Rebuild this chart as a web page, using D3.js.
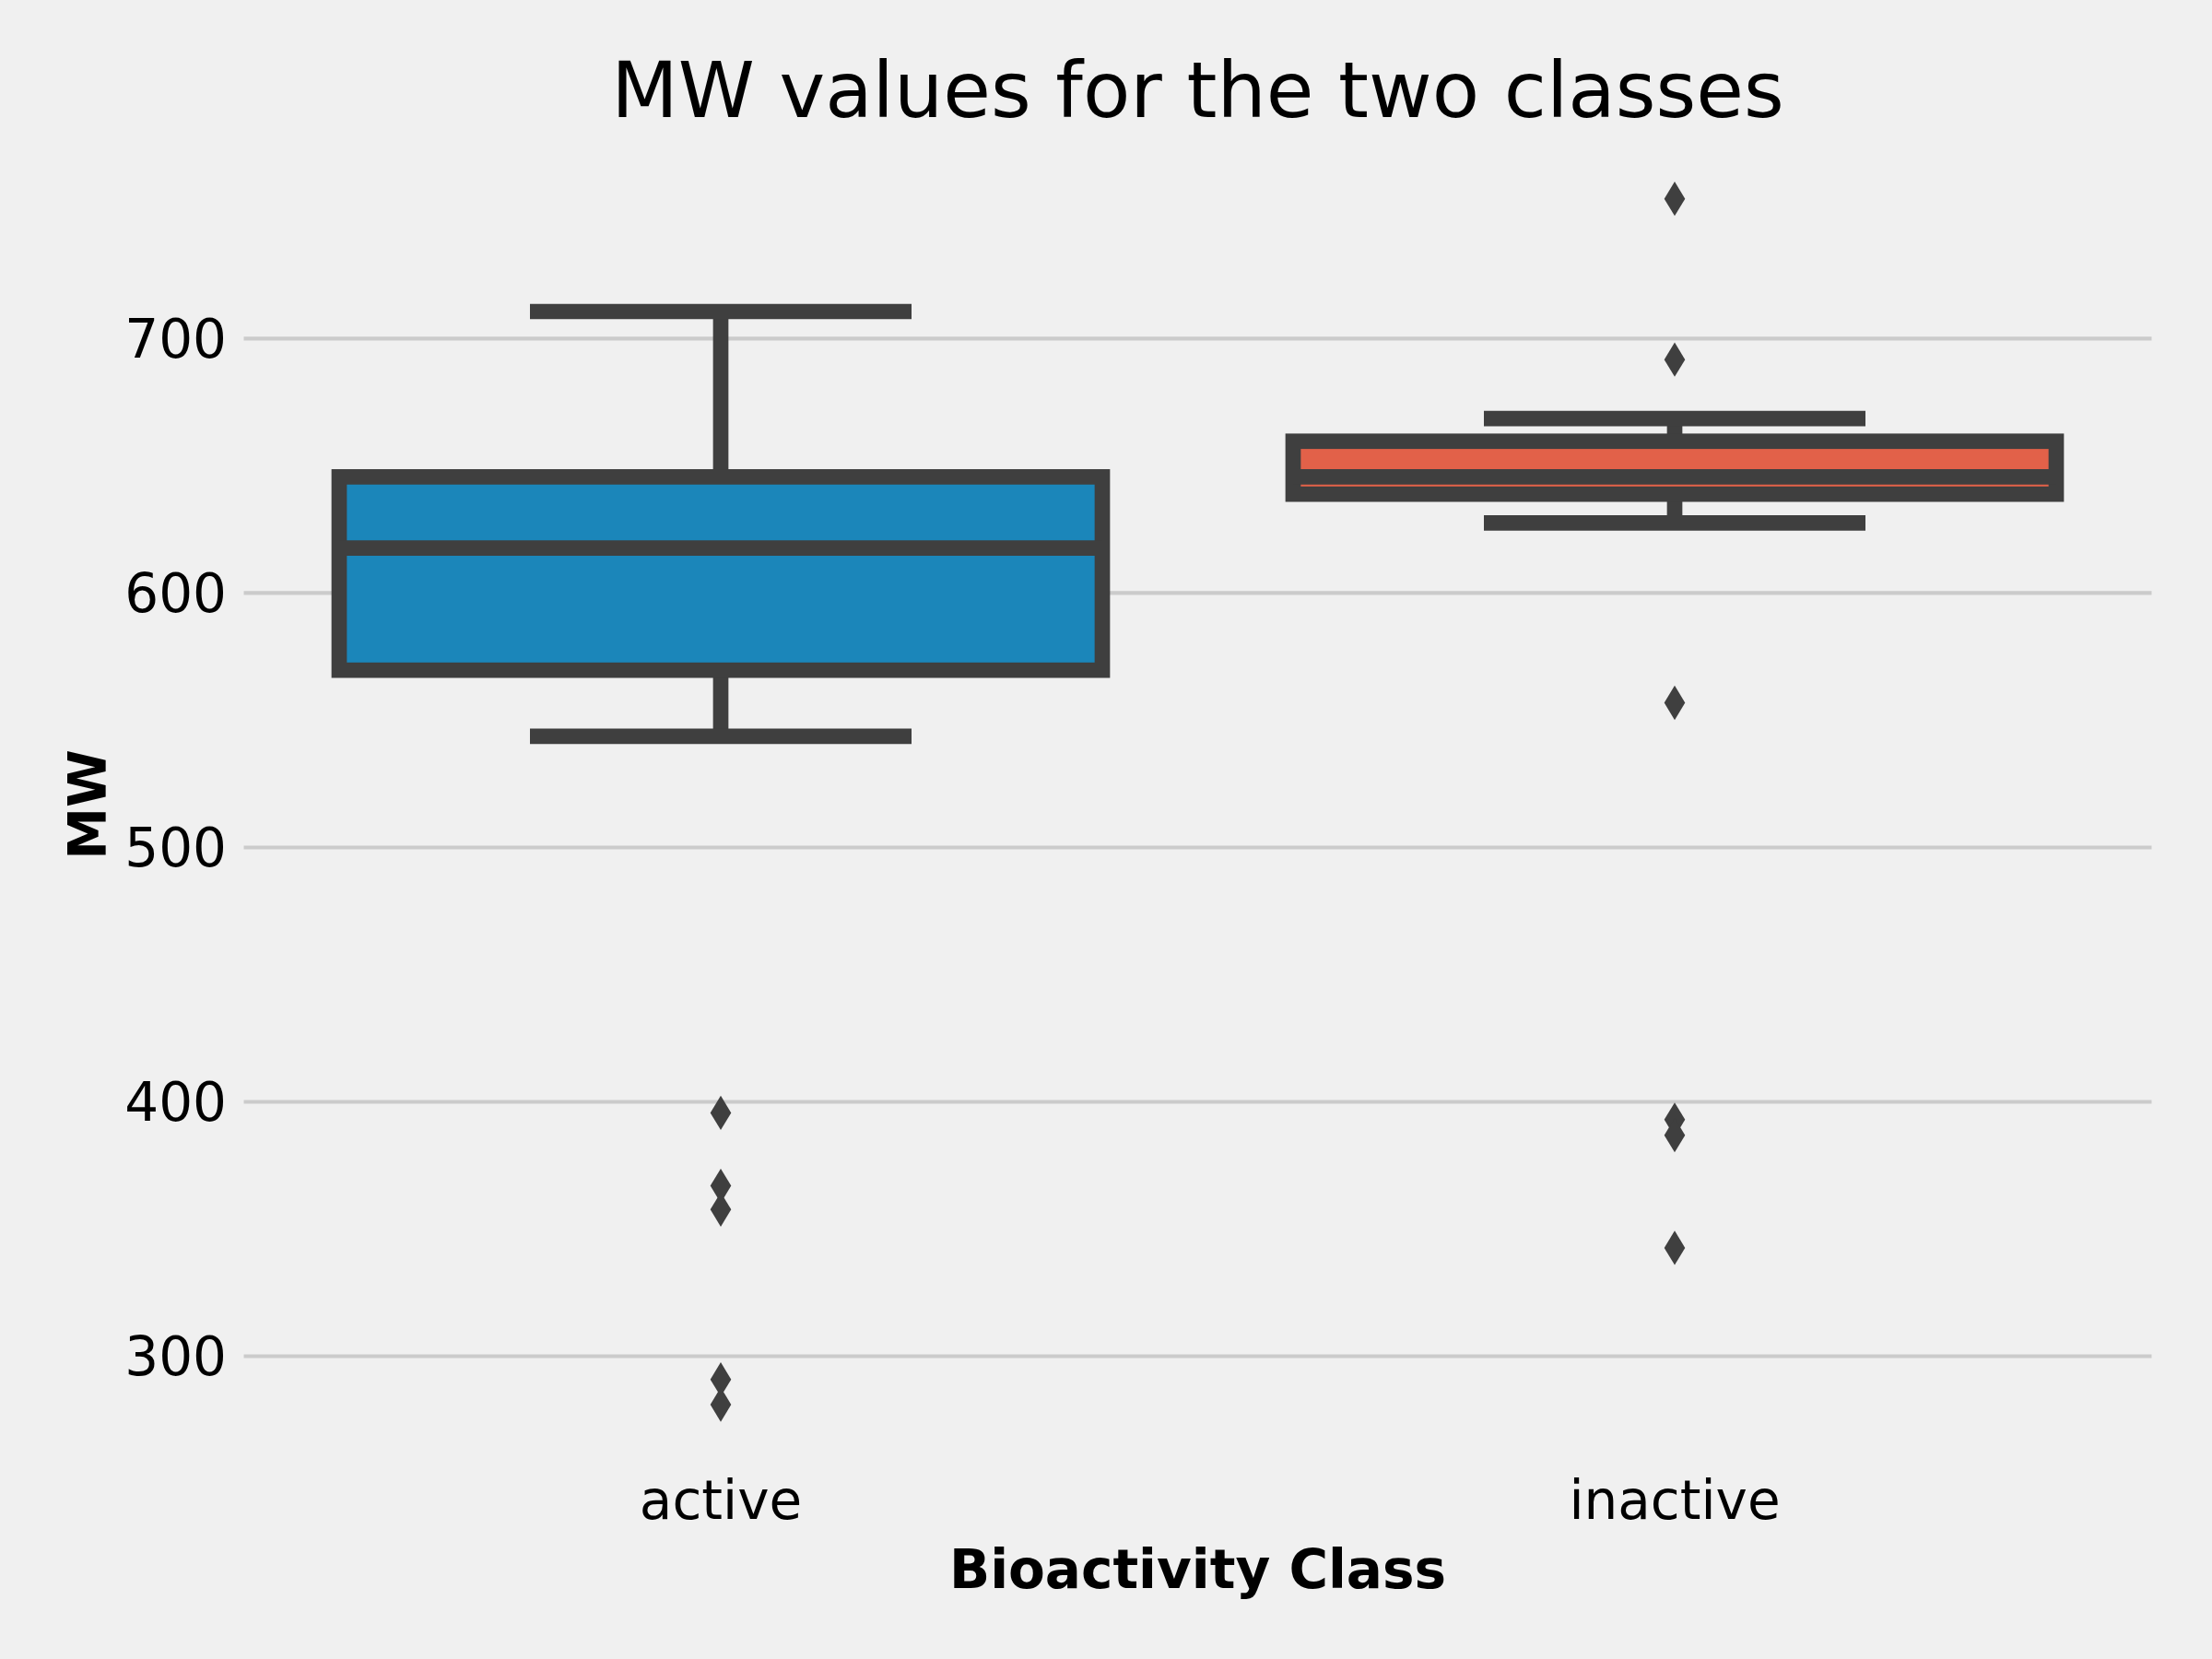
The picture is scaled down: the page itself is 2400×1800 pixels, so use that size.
<!DOCTYPE html>
<html>
<head>
<meta charset="utf-8">
<script src="https://cdn.jsdelivr.net/npm/d3@7"></script>
<style>
  html, body { margin: 0; padding: 0; background: #f0f0f0; }
  svg { display: block; }
  text { font-family: "DejaVu Sans", sans-serif; fill: #000; }
</style>
</head>
<body>
<script>
// ---- data ----
const categories = ["active", "inactive"];
const q1Values = [569.5, 638.7];
const medianValues = [617.5, 645.5];
const q3Values = [645.5, 659.5];
const whiskerLow = [543.5, 627.4];
const whiskerHigh = [710.5, 668.4];
const outliersActive = [395.5, 366.8, 357.5, 290.7, 280.8];
const outliersInactive = [754.8, 691.6, 556.7, 392.8, 386.7, 342.4];
const yTickValues = [300, 400, 500, 600, 700];
const boxColors = ["#1b86ba", "#e26149"];
const titleText = "MW values for the two classes";
const xLabelText = "Bioactivity Class";
const yLabelText = "MW";

const outliers = [outliersActive, outliersInactive];

// ---- layout ----
const W = 2400, H = 1800;
const plot = { left: 264.5, right: 2334.5, top: 150.3, bottom: 1589.4 };
const gray = "#3f3f3f";
const lw = 16.7;

const svg = d3.select("body").append("svg")
  .attr("width", W).attr("height", H)
  .style("background", "#f0f0f0");

svg.append("rect").attr("width", W).attr("height", H).attr("fill", "#f0f0f0");

// y extent from data with 5% margins
const allVals = [].concat(whiskerLow, whiskerHigh, outliersActive, outliersInactive);
const [mn, mx] = d3.extent(allVals);
const pad = (mx - mn) * 0.05;
const y = d3.scaleLinear().domain([mn - pad, mx + pad]).range([plot.bottom, plot.top]);
const x = d3.scaleBand().domain(categories).range([plot.left, plot.right]).padding(0);
const bw = x.bandwidth() * 0.8;
const cx = c => x(c) + x.bandwidth() / 2;

// gridlines + y tick labels via axis
const yAxis = d3.axisLeft(y).tickValues(yTickValues).tickSize(-(plot.right - plot.left)).tickPadding(18);
const gy = svg.append("g").attr("transform", `translate(${plot.left},0)`).call(yAxis);
gy.select(".domain").remove();
gy.selectAll(".tick line").attr("stroke", "#cbcbcb").attr("stroke-width", 4.2);
gy.selectAll(".tick text")
  .attr("font-family", "DejaVu Sans").attr("font-size", 58).attr("fill", "#000")
  .attr("x", 246 - plot.left).attr("dy", "0.36em");

// x tick labels via axis
const xAxis = d3.axisBottom(x).tickSize(0).tickPadding(0);
const gx = svg.append("g").attr("transform", `translate(0,${plot.bottom})`).call(xAxis);
gx.select(".domain").remove();
gx.selectAll(".tick text")
  .attr("font-family", "DejaVu Sans").attr("font-size", 58).attr("fill", "#000")
  .attr("y", 1648 - plot.bottom).attr("dy", 0);

// boxes
const boxes = svg.append("g");
categories.forEach((c, i) => {
  const g = boxes.append("g");
  const xc = cx(c);
  // whiskers
  g.append("line").attr("x1", xc).attr("x2", xc)
    .attr("y1", y(q1Values[i])).attr("y2", y(whiskerLow[i]))
    .attr("stroke", gray).attr("stroke-width", lw);
  g.append("line").attr("x1", xc).attr("x2", xc)
    .attr("y1", y(q3Values[i])).attr("y2", y(whiskerHigh[i]))
    .attr("stroke", gray).attr("stroke-width", lw);
  // caps
  [whiskerLow[i], whiskerHigh[i]].forEach(v => {
    g.append("line").attr("x1", xc - bw / 4).attr("x2", xc + bw / 4)
      .attr("y1", y(v)).attr("y2", y(v))
      .attr("stroke", gray).attr("stroke-width", lw);
  });
  // box
  g.append("rect")
    .attr("x", xc - bw / 2).attr("width", bw)
    .attr("y", y(q3Values[i])).attr("height", y(q1Values[i]) - y(q3Values[i]))
    .attr("fill", boxColors[i]).attr("stroke", gray).attr("stroke-width", lw);
  // median
  g.append("line").attr("x1", xc - bw / 2).attr("x2", xc + bw / 2)
    .attr("y1", y(medianValues[i])).attr("y2", y(medianValues[i]))
    .attr("stroke", gray).attr("stroke-width", lw);
  // fliers (thin diamonds)
  const dh = 37.3 / 2, dw = 22.6 / 2;
  g.selectAll("path.flier").data(outliers[i]).enter().append("path")
    .attr("class", "flier")
    .attr("d", v => {
      const yy = y(v);
      return `M${xc},${yy - dh}L${xc + dw},${yy}L${xc},${yy + dh}L${xc - dw},${yy}Z`;
    })
    .attr("fill", gray);
});

// title
svg.append("text").attr("x", (plot.left + plot.right) / 2).attr("y", 127)
  .attr("text-anchor", "middle").attr("font-size", 84).text(titleText);

// x label
svg.append("text").attr("x", (plot.left + plot.right) / 2).attr("y", 1723)
  .attr("text-anchor", "middle").attr("font-size", 58).attr("font-weight", "bold").text(xLabelText);

// y label
svg.append("text").attr("transform", `translate(115,${(plot.top + plot.bottom) / 2 + 3}) rotate(-90)`)
  .attr("text-anchor", "middle").attr("font-size", 57).attr("font-weight", "bold").text(yLabelText);
</script>
</body>
</html>
